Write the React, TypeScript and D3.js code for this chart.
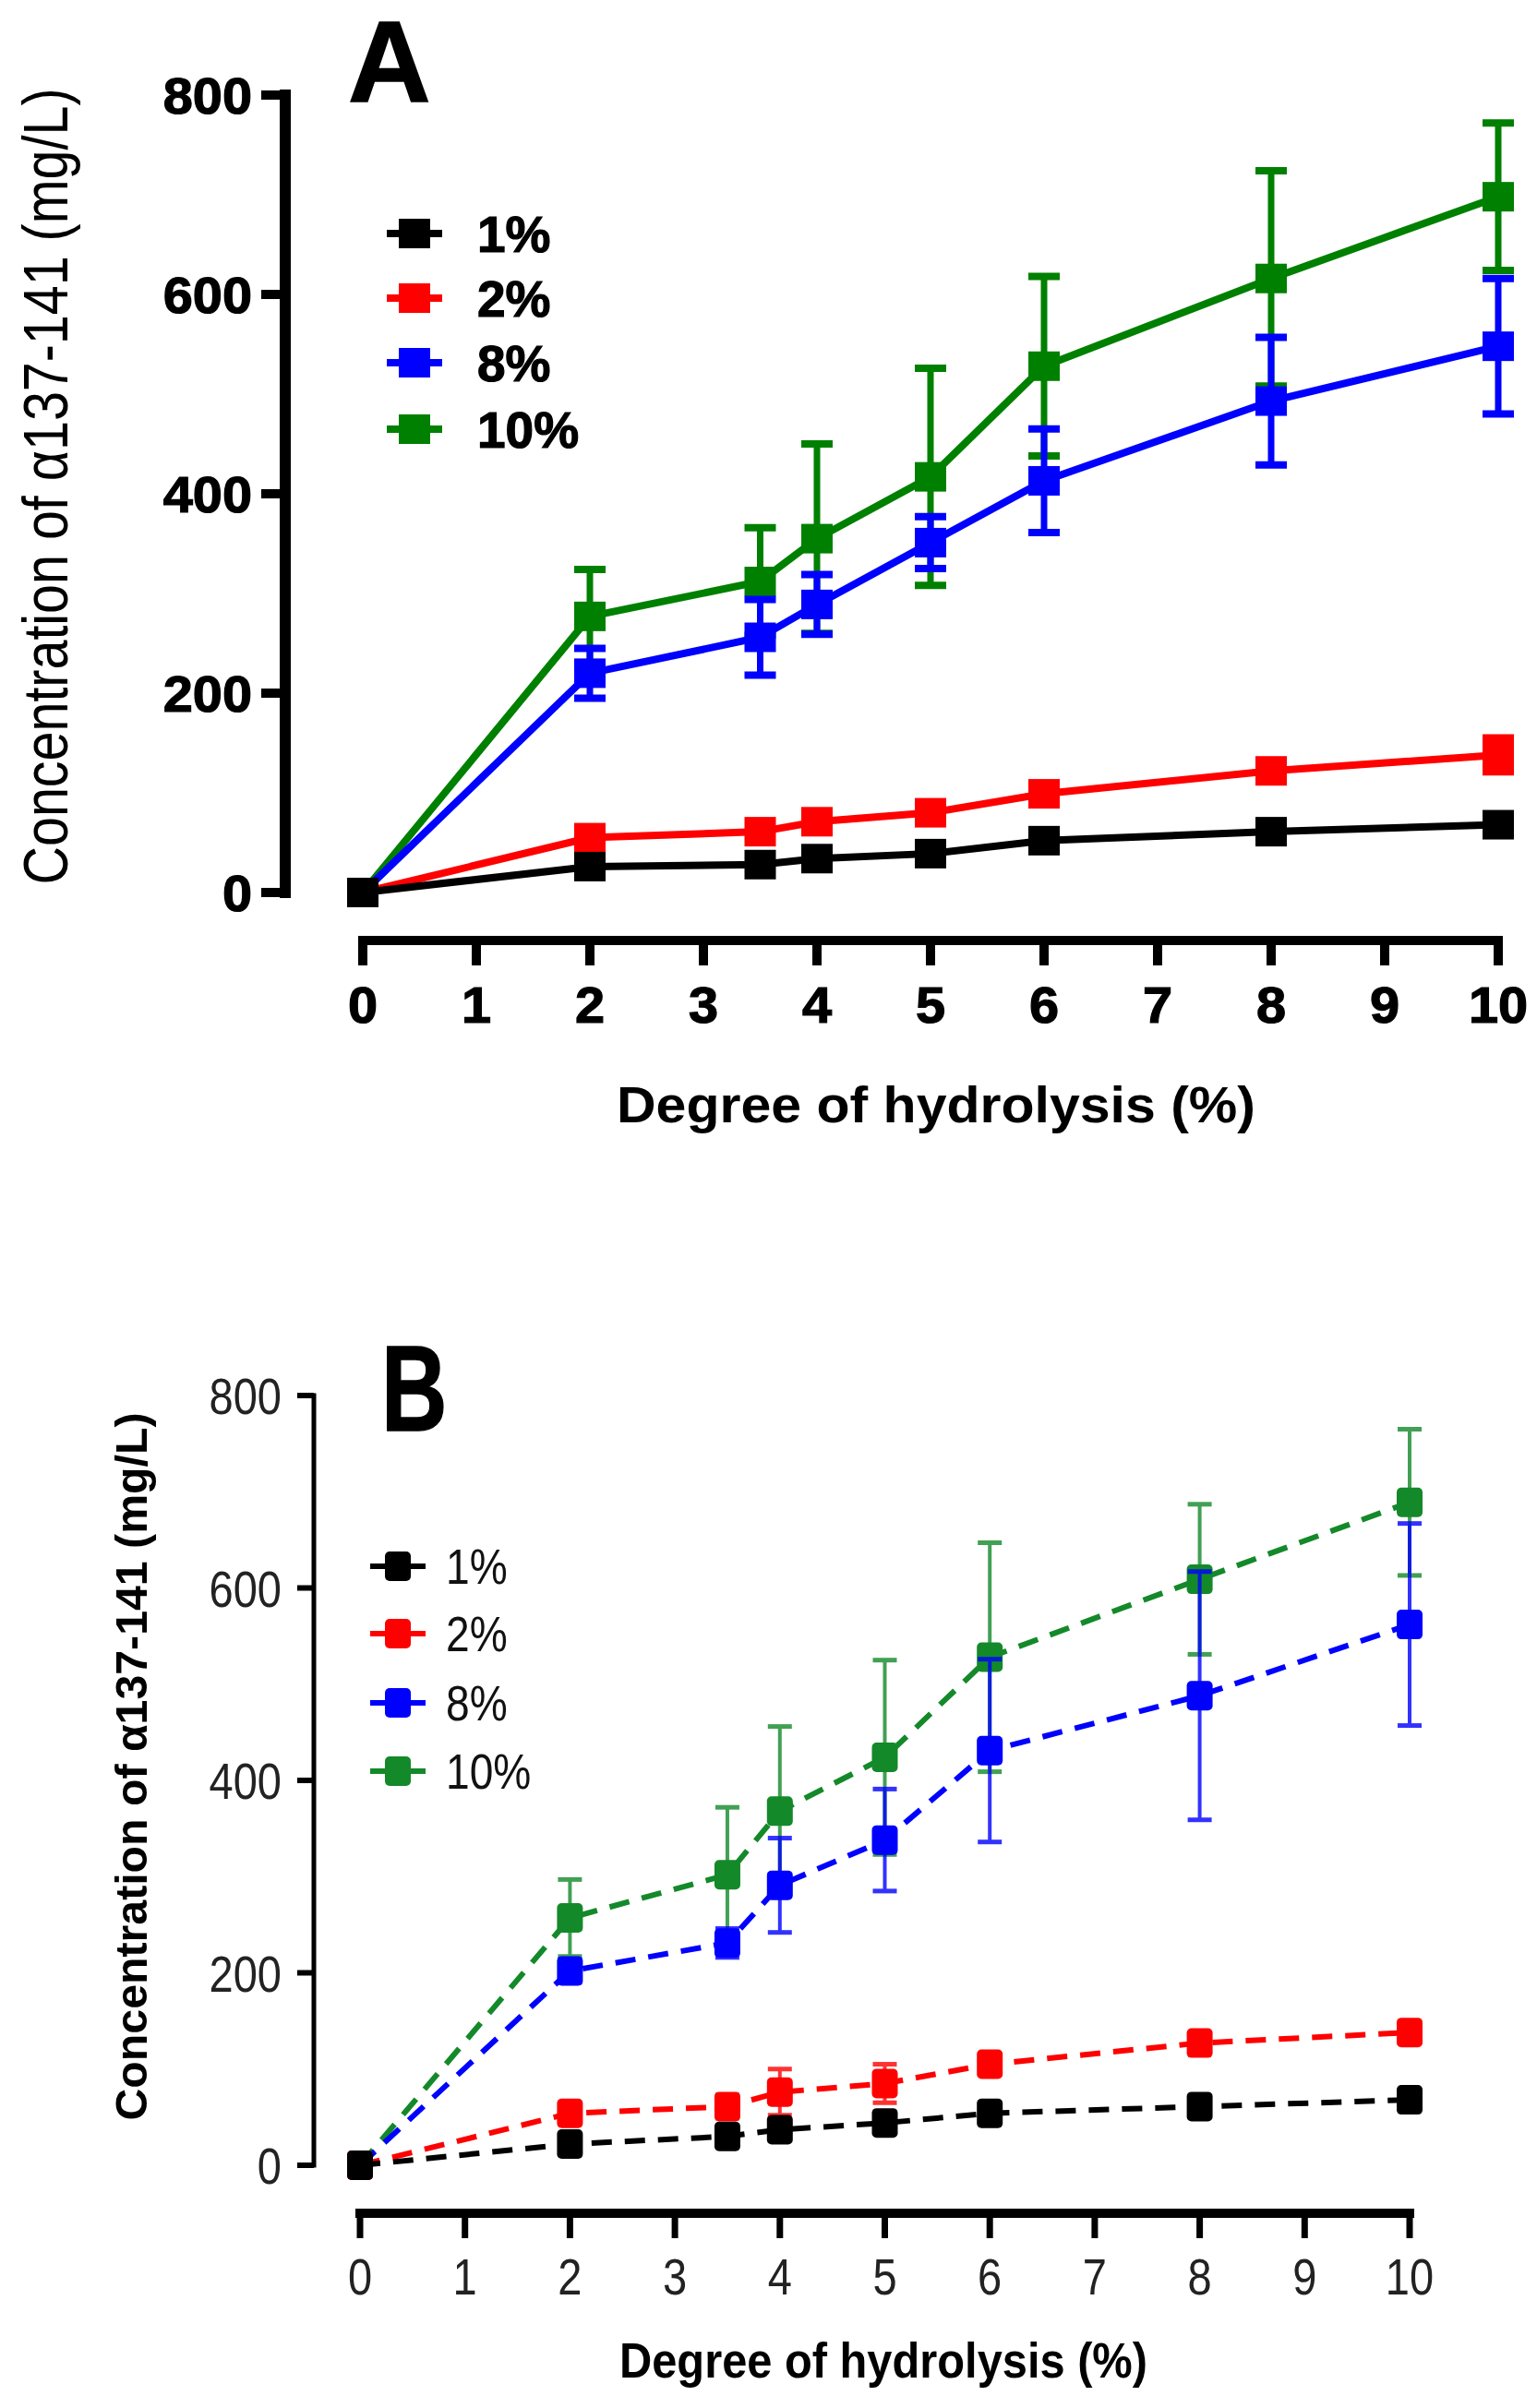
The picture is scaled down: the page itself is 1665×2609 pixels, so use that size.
import { useEffect, useRef } from 'react'
import * as d3 from 'd3'

const W = 1665
const H = 2609

// shared categories
const doses = [0, 2, 3.5, 4, 5, 6, 8, 10]
const xTickValues = [0, 1, 2, 3, 4, 5, 6, 7, 8, 9, 10]
const yTickValues = [0, 200, 400, 600, 800]
const seriesLabels = ['1%', '2%', '8%', '10%']
const yTitle = 'Concentration of α137-141 (mg/L)'
const xTitle = 'Degree of hydrolysis (%)'

// panel A (solid lines)
const aMean1 = [0, 26, 28, 34, 39, 52, 61, 68]
const aMean2 = [0, 55, 61, 71, 80, 99, 122, 138]
const aMean8 = [0, 220, 256, 289, 351, 413, 493, 548]
const aMean10 = [0, 277, 312, 355, 417, 528, 616, 698]
const aErr1 = [0, 0, 0, 0, 0, 0, 0, 0]
const aErr2 = [0, 0, 0, 0, 0, 0, 0, 17]
const aErr8 = [0, 25, 38, 30, 26, 52, 64, 68]
const aErr10 = [0, 47, 54, 95, 109, 90, 108, 74]

// panel B (dashed lines)
const bMean1 = [0, 22, 30, 37, 44, 54, 61, 68]
const bMean2 = [0, 54, 61, 76, 85, 105, 127, 138]
const bMean8 = [0, 202, 231, 291, 338, 431, 488, 562]
const bMean10 = [0, 257, 302, 368, 424, 528, 609, 689]
const bErr1 = [0, 0, 0, 0, 0, 0, 0, 0]
const bErr2 = [0, 0, 12, 24, 20, 0, 0, 0]
const bErr8 = [0, 12, 15, 49, 53, 95, 129, 105]
const bErr10 = [0, 40, 70, 88, 101, 119, 78, 76]

const colorsA = ['#000000', '#ff0000', '#0000ff', '#008000']
const colorsB = ['#000000', '#ff0000', '#0000ff', '#14892a']

type Sel = d3.Selection<SVGGElement, unknown, null, undefined>

interface PanelStyle {
  letter: string
  letterX: number
  letterY: number
  letterSize: number
  letterScale: number
  xRange: [number, number]
  yRange: [number, number]
  xAxisY: number
  xAxisW: number
  xTickLen: number
  xTickW: number
  yAxisX: number
  yAxisW: number
  yTickLen: number
  yTickW: number
  tickSize: number
  tickWeight: string
  tickColor: string
  tickScale: number
  tickStroke: number
  xLabelBaseline: number
  yLabelRight: number
  xTitleX: number
  xTitleY: number
  xTitleSize: number
  xTitleLen: number
  yTitleX: number
  yTitleY: number
  yTitleSize: number
  yTitleLen: number
  yTitleWeight: string
  legendX: number
  legendRows: number[]
  legendTextX: number
  legendSize: number
  legendWeight: string
  legendScale: number
  legendColor: string
  colors: string[]
  lineW: number
  dash: string | null
  markW: number
  markH: number
  markR: number
  errW: number
  capW: number
  capH: number
  errOpacity: number
}

function condText(g: Sel, x: number, y: number, str: string, size: number, weight: string, color: string, sx: number, anchor: string, stroke = 0) {
  const t = g.append('text')
    .attr('transform', `translate(${x},${y}) scale(${sx},1)`)
    .attr('text-anchor', anchor)
    .style('font-family', '"Liberation Sans", Arial, sans-serif')
    .style('font-size', `${size}px`)
    .style('font-weight', weight)
    .style('fill', color)
    .text(str)
  if (stroke) t.style('stroke', color).style('stroke-width', stroke)
}

function drawPanel(g: Sel, p: PanelStyle, means: number[][], errs: number[][]) {
  const x = d3.scaleLinear().domain([0, 10]).range(p.xRange)
  const y = d3.scaleLinear().domain([0, 800]).range(p.yRange)

  // panel letter
  condText(g, p.letterX, p.letterY, p.letter, p.letterSize, 'bold', '#000', p.letterScale, 'start', 1.5)

  // y axis
  g.append('line')
    .attr('x1', p.yAxisX).attr('x2', p.yAxisX)
    .attr('y1', y(800)).attr('y2', y(0))
    .attr('stroke', '#000').attr('stroke-width', p.yAxisW)
    .attr('stroke-linecap', 'square')
  yTickValues.forEach(t => {
    g.append('line')
      .attr('x1', p.yAxisX - p.yTickLen).attr('x2', p.yAxisX)
      .attr('y1', y(t)).attr('y2', y(t))
      .attr('stroke', '#000').attr('stroke-width', p.yTickW)
    condText(g, p.yLabelRight, y(t) + p.tickSize * 0.36, String(t), p.tickSize, p.tickWeight, p.tickColor, p.tickScale, 'end', p.tickStroke)
  })

  // x axis
  g.append('line')
    .attr('x1', x(0)).attr('x2', x(10))
    .attr('y1', p.xAxisY).attr('y2', p.xAxisY)
    .attr('stroke', '#000').attr('stroke-width', p.xAxisW)
    .attr('stroke-linecap', 'square')
  xTickValues.forEach(t => {
    g.append('line')
      .attr('x1', x(t)).attr('x2', x(t))
      .attr('y1', p.xAxisY).attr('y2', p.xAxisY + p.xTickLen)
      .attr('stroke', '#000').attr('stroke-width', p.xTickW)
    condText(g, x(t), p.xLabelBaseline, String(t), p.tickSize, p.tickWeight, p.tickColor, p.tickScale, 'middle', p.tickStroke)
  })

  // axis titles
  g.append('text')
    .attr('x', p.xTitleX).attr('y', p.xTitleY)
    .attr('text-anchor', 'middle')
    .attr('textLength', p.xTitleLen).attr('lengthAdjust', 'spacingAndGlyphs')
    .style('font-family', '"Liberation Sans", Arial, sans-serif')
    .style('font-size', `${p.xTitleSize}px`)
    .style('font-weight', 'bold')
    .style('fill', '#000')
    .text(xTitle)
  g.append('text')
    .attr('transform', `translate(${p.yTitleX},${p.yTitleY}) rotate(-90)`)
    .attr('text-anchor', 'middle')
    .attr('textLength', p.yTitleLen).attr('lengthAdjust', 'spacingAndGlyphs')
    .style('font-family', '"Liberation Sans", Arial, sans-serif')
    .style('font-size', `${p.yTitleSize}px`)
    .style('font-weight', p.yTitleWeight)
    .style('fill', '#000')
    .text(yTitle)

  // legend
  seriesLabels.forEach((lab, i) => {
    const ry = p.legendRows[i]
    g.append('line')
      .attr('x1', p.legendX - 30).attr('x2', p.legendX + 30)
      .attr('y1', ry).attr('y2', ry)
      .attr('stroke', p.colors[i]).attr('stroke-width', p.lineW)
    g.append('rect')
      .attr('x', p.legendX - p.markW / 2).attr('y', ry - p.markH / 2)
      .attr('width', p.markW).attr('height', p.markH)
      .attr('rx', p.markR)
      .attr('fill', p.colors[i])
    condText(g, p.legendTextX, ry + p.legendSize * 0.36, lab, p.legendSize, p.legendWeight, p.legendColor, p.legendScale, 'start', p.tickStroke)
  })

  // series, drawn 10% first so 1% ends up on top
  const line = d3.line<number>().x((_, i) => x(doses[i])).y(d => y(d))
  for (let s = means.length - 1; s >= 0; s--) {
    const col = p.colors[s]
    const path = g.append('path')
      .attr('d', line(means[s]))
      .attr('fill', 'none')
      .attr('stroke', col)
      .attr('stroke-width', p.lineW)
    if (p.dash) path.attr('stroke-dasharray', p.dash)

    const eg = g.append('g').attr('opacity', p.errOpacity)
    means[s].forEach((m, i) => {
      const e = errs[s][i]
      if (!e) return
      eg.append('line')
        .attr('x1', x(doses[i])).attr('x2', x(doses[i]))
        .attr('y1', y(m + e)).attr('y2', y(m - e))
        .attr('stroke', col).attr('stroke-width', p.errW)
      ;[m + e, m - e].forEach(v => {
        eg.append('line')
          .attr('x1', x(doses[i]) - p.capW / 2).attr('x2', x(doses[i]) + p.capW / 2)
          .attr('y1', y(v)).attr('y2', y(v))
          .attr('stroke', col).attr('stroke-width', p.capH)
      })
    })

    g.selectAll(null)
      .data(means[s])
      .join('rect')
      .attr('x', (_, i) => x(doses[i]) - p.markW / 2)
      .attr('y', d => y(d) - p.markH / 2)
      .attr('width', p.markW)
      .attr('height', p.markH)
      .attr('rx', p.markR)
      .attr('fill', col)
  }
}

const panelA: PanelStyle = {
  letter: 'A', letterX: 377, letterY: 110, letterSize: 124, letterScale: 1,
  xRange: [393, 1623], yRange: [967, 103],
  xAxisY: 1019, xAxisW: 10, xTickLen: 27, xTickW: 10,
  yAxisX: 309, yAxisW: 12, yTickLen: 26, yTickW: 10,
  tickSize: 55, tickWeight: 'bold', tickColor: '#000', tickScale: 1.05, tickStroke: 1.2,
  xLabelBaseline: 1108, yLabelRight: 273,
  xTitleX: 1014, xTitleY: 1216, xTitleSize: 55, xTitleLen: 692,
  yTitleX: 73, yTitleY: 527, yTitleSize: 68, yTitleLen: 863, yTitleWeight: 'normal',
  legendX: 449, legendRows: [253, 323, 393, 465], legendTextX: 517,
  legendSize: 55, legendWeight: 'bold', legendScale: 1, legendColor: '#000',
  colors: colorsA, lineW: 8, dash: null,
  markW: 34, markH: 32, markR: 0,
  errW: 7, capW: 34, capH: 8, errOpacity: 1,
}

const panelB: PanelStyle = {
  letter: 'B', letterX: 413, letterY: 1550, letterSize: 132, letterScale: 0.75,
  xRange: [390, 1527], yRange: [2346, 1512],
  xAxisY: 2398, xAxisW: 10, xTickLen: 27, xTickW: 7,
  yAxisX: 340, yAxisW: 5, yTickLen: 18, yTickW: 6,
  tickSize: 56, tickWeight: 'normal', tickColor: '#222', tickScale: 0.84, tickStroke: 0,
  xLabelBaseline: 2486, yLabelRight: 305,
  xTitleX: 957, xTitleY: 2576, xTitleSize: 53, xTitleLen: 572,
  yTitleX: 159, yTitleY: 1914, yTitleSize: 48, yTitleLen: 767, yTitleWeight: 'bold',
  legendX: 431, legendRows: [1697, 1770, 1845, 1919], legendTextX: 483,
  legendSize: 53, legendWeight: 'normal', legendScale: 0.87, legendColor: '#111',
  colors: colorsB, lineW: 6, dash: '22,14',
  markW: 28, markH: 32, markR: 5,
  errW: 4, capW: 26, capH: 5, errOpacity: 0.8,
}

export default function App() {
  const svgRef = useRef<SVGSVGElement>(null)

  useEffect(() => {
    if (!svgRef.current) return
    const svg = d3.select(svgRef.current)
    svg.selectAll('*').remove()
    svg.append('rect').attr('width', W).attr('height', H).attr('fill', '#fff')

    drawPanel(svg.append('g') as unknown as Sel, panelA,
      [aMean1, aMean2, aMean8, aMean10], [aErr1, aErr2, aErr8, aErr10])
    drawPanel(svg.append('g') as unknown as Sel, panelB,
      [bMean1, bMean2, bMean8, bMean10], [bErr1, bErr2, bErr8, bErr10])
  }, [])

  return (
    <svg
      ref={svgRef}
      width={W}
      height={H}
      style={{ position: 'absolute', left: 0, top: 0, display: 'block' }}
    />
  )
}
